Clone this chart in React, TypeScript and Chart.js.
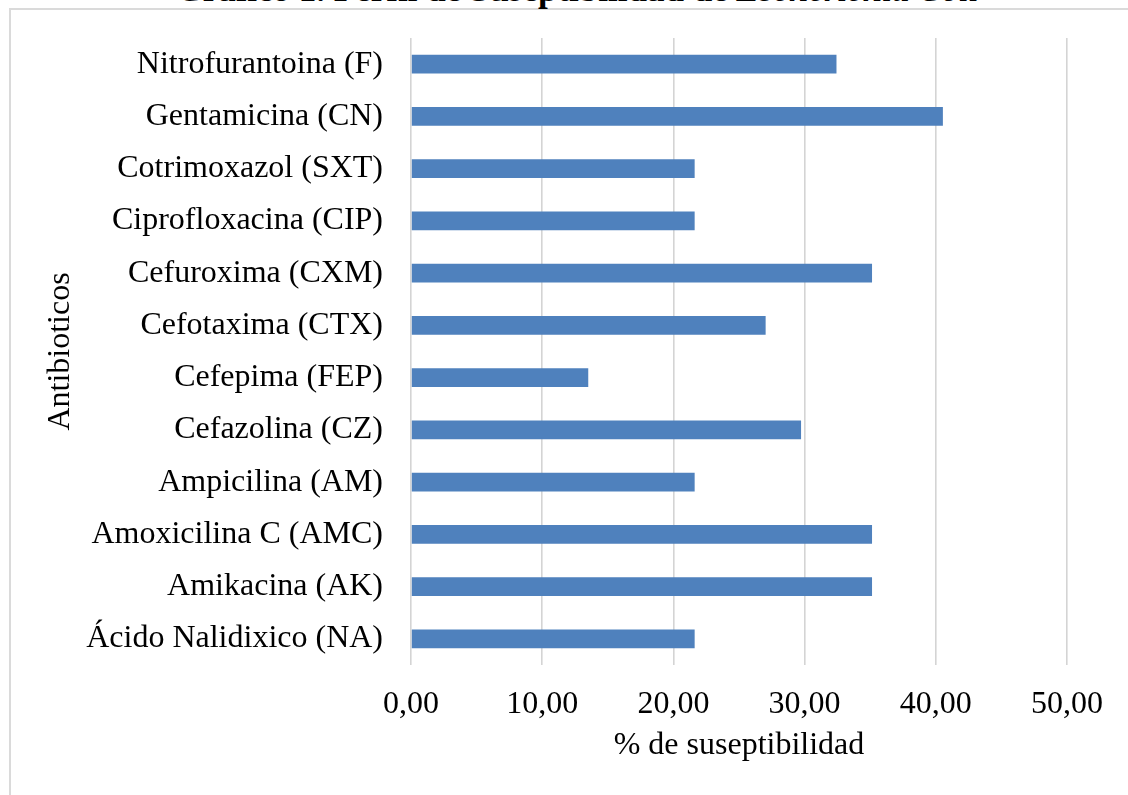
import { useEffect, useRef } from "react";
import { Chart, registerables } from "chart.js";

Chart.register(...registerables);

// Antibiotic panel, listed top to bottom as drawn
const antibiotics = [
  "Nitrofurantoina (F)",
  "Gentamicina (CN)",
  "Cotrimoxazol (SXT)",
  "Ciprofloxacina (CIP)",
  "Cefuroxima (CXM)",
  "Cefotaxima (CTX)",
  "Cefepima (FEP)",
  "Cefazolina (CZ)",
  "Ampicilina (AM)",
  "Amoxicilina C (AMC)",
  "Amikacina (AK)",
  "Ácido Nalidixico (NA)",
];

// % of susceptible isolates per antibiotic
const susceptibility = [32.43, 40.54, 21.62, 21.62, 35.14, 27.03, 13.51, 29.73, 21.62, 35.14, 35.14, 21.62];

// x-axis tick values
const xTickValues = [0, 10, 20, 30, 40, 50];

const chartTitle = "Gráfico 1. Perfil de Suseptibilidad de ";
const chartTitleItalic = "Escherichia Coli";
const xAxisTitle = "% de suseptibilidad";
const yAxisTitle = "Antibioticos";

const SERIF = '"Liberation Serif", "Times New Roman", Times, serif';
const W = 1128;
const H = 795;

// x scale: tick labels (38.4) + tick padding (20) + title (38.4 + 3.4)
const X_SCALE_HEIGHT = 100.2;
const Y_SCALE_WIDTH = 411;

export default function App() {
  const canvasRef = useRef<HTMLCanvasElement | null>(null);

  useEffect(() => {
    const canvas = canvasRef.current;
    if (!canvas) return;
    const chart = new Chart(canvas, {
      type: "bar",
      data: {
        labels: antibiotics,
        datasets: [
          {
            data: susceptibility,
            backgroundColor: "#4f81bd",
            borderWidth: 0,
            barPercentage: 0.355,
            categoryPercentage: 1,
          },
        ],
      },
      options: {
        indexAxis: "y",
        responsive: false,
        animation: false,
        devicePixelRatio: 1,
        layout: { padding: { left: 0, top: 38, right: 61, bottom: 29.8 } },
        plugins: {
          legend: { display: false },
          title: { display: false },
          tooltip: { enabled: false },
        },
        scales: {
          x: {
            type: "linear",
            min: xTickValues[0],
            max: xTickValues[xTickValues.length - 1],
            afterBuildTicks: (scale: any) => {
              scale.ticks = xTickValues.map((v) => ({ value: v }));
            },
            afterFit: (scale: any) => {
              scale.height = X_SCALE_HEIGHT;
              scale.paddingLeft = 0;
              scale.paddingRight = 0;
              scale.paddingTop = 0;
              scale.paddingBottom = 0;
            },
            ticks: {
              padding: 20,
              maxRotation: 0,
              color: "#000",
              font: { family: SERIF, size: 32 },
              callback: (v: any) => Number(v).toFixed(2).replace(".", ","),
            },
            grid: { color: "#d4d4d4", lineWidth: 1.6, drawTicks: false },
            border: { display: false },
            title: {
              display: true,
              text: xAxisTitle,
              color: "#000",
              font: { family: SERIF, size: 32 },
              padding: { top: 3.4, bottom: 0 },
            },
          },
          y: {
            afterFit: (scale: any) => {
              scale.width = Y_SCALE_WIDTH;
              scale.paddingTop = 0;
              scale.paddingBottom = 0;
              scale.paddingLeft = 0;
              scale.paddingRight = 0;
            },
            ticks: {
              padding: 28,
              color: "#000",
              font: { family: SERIF, size: 32 },
            },
            grid: { display: false, drawTicks: false },
            border: { display: false },
            title: {
              display: true,
              text: yAxisTitle,
              color: "#000",
              font: { family: SERIF, size: 32 },
              padding: { top: 41.8, bottom: 0 },
            },
          },
        },
      },
    });
    return () => chart.destroy();
  }, []);

  return (
    <div
      style={{
        position: "fixed",
        left: 0,
        top: 0,
        width: W,
        height: H,
        overflow: "hidden",
        background: "#fff",
      }}
    >
      <div
        style={{
          position: "absolute",
          left: 9,
          top: 8,
          width: W + 100,
          height: H + 100,
          border: "2px solid #dadada",
          boxSizing: "border-box",
        }}
      />
      <div
        style={{
          position: "absolute",
          left: 0,
          top: -30,
          width: 1154,
          textAlign: "center",
          fontFamily: SERIF,
          fontWeight: "bold",
          fontSize: 35,
          lineHeight: "normal",
          color: "#000",
          whiteSpace: "nowrap",
        }}
      >
        {chartTitle}
        <i>{chartTitleItalic}</i>
      </div>
      <canvas
        ref={canvasRef}
        width={W}
        height={H}
        style={{ position: "absolute", left: 0, top: 0, width: W, height: H }}
      />
    </div>
  );
}
